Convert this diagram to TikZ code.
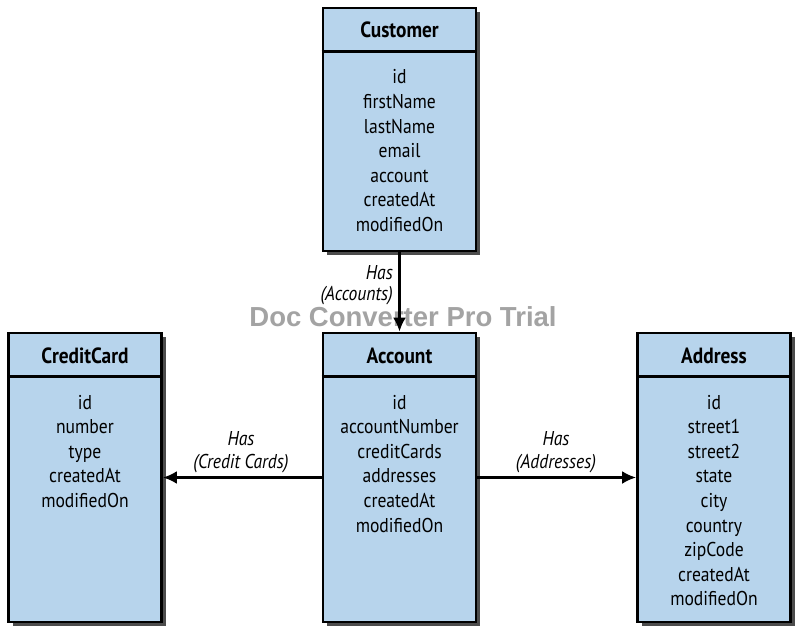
\documentclass[tikz,border=0pt]{standalone}
\usepackage{fontspec}
\setmainfont{PT Sans}[FakeStretch=0.88]
\newfontfamily\wmfont{Liberation Sans}
\usetikzlibrary{arrows.meta,shadows}
\definecolor{boxblue}{RGB}{183,212,236}
\begin{document}
\begin{tikzpicture}[x=1pt,y=-1pt,
  entity/.style={draw=black, line width=2.8pt, fill=boxblue, inner sep=0pt,
    minimum width=153pt,
    drop shadow={shadow xshift=4pt, shadow yshift=-4pt, fill=black!70, opacity=1}},
  hdrline/.style={draw=black, line width=2.6pt},
  hdr/.style={font=\bfseries\fontsize{22}{24}\selectfont, anchor=base, inner sep=0pt},
  attr/.style={font=\fontsize{20}{24}\selectfont, anchor=base, inner sep=0pt},
  lbl/.style={font=\itshape\fontsize{20}{24}\selectfont, inner sep=0pt},
  conn/.style={draw=black, line width=2.6pt, -{Latex[length=14pt,width=13pt]}},
  wm/.style={font=\wmfont\bfseries\fontsize{27.5}{30}\selectfont, text=black!36, anchor=base, inner sep=0pt}
]
\useasboundingbox (0,0) rectangle (805,636);
\fill[white] (0,0) rectangle (805,636);

% watermark (behind connectors)
\node[wm] (wm) at (403,326.5) {Doc Converter Pro Trial};

% Boxes
\node[entity, minimum height=243pt] (customer) at (399.5,129.5) {};
\node[entity, minimum height=289pt] (account) at (399.5,477.5) {};
\node[entity, minimum height=289pt] (creditcard) at (85,477.5) {};
\node[entity, minimum height=289pt] (address) at (714,477.5) {};

\foreach \b in {customer,account,creditcard,address}
  \draw[hdrline] ([yshift=-45pt]\b.north west) -- ([yshift=-45pt]\b.north east);

% Titles
\node[hdr] (customer-t) at (399.5,38) {Customer};
\node[hdr] (account-t) at (399.5,363) {Account};
\node[hdr] (creditcard-t) at (85,363) {CreditCard};
\node[hdr] (address-t) at (714,363) {Address};

% Attributes
\foreach \t [count=\i] in {id,firstName,lastName,email,account,createdAt,modifiedOn}
  \node[attr] (customer-\i) at (399.5,{84+24.6*(\i-1)}) {\t};
\foreach \t [count=\i] in {id,accountNumber,creditCards,addresses,createdAt,modifiedOn}
  \node[attr] (account-\i) at (399.5,{409+24.6*(\i-1)}) {\t};
\foreach \t [count=\i] in {id,number,type,createdAt,modifiedOn}
  \node[attr] (creditcard-\i) at (85,{409+24.6*(\i-1)}) {\t};
\foreach \t [count=\i] in {id,street1,street2,state,city,country,zipCode,createdAt,modifiedOn}
  \node[attr] (address-\i) at (714,{409+24.6*(\i-1)}) {\t};

% Connectors
\draw[conn] (customer.south) -- (account.north);
\draw[conn] (account.west) -- (creditcard.east);
\draw[conn] (account.east) -- (address.west);

% Connector labels
\node[lbl, anchor=base east] (l-acc1) at (393,279) {Has};
\node[lbl, anchor=base east] (l-acc2) at (393,300) {(Accounts)};
\node[lbl, anchor=base] (l-cc1) at (241,445) {Has};
\node[lbl, anchor=base] (l-cc2) at (241,468) {(Credit Cards)};
\node[lbl, anchor=base] (l-ad1) at (556,445) {Has};
\node[lbl, anchor=base] (l-ad2) at (556,468) {(Addresses)};
\end{tikzpicture}
\end{document}
